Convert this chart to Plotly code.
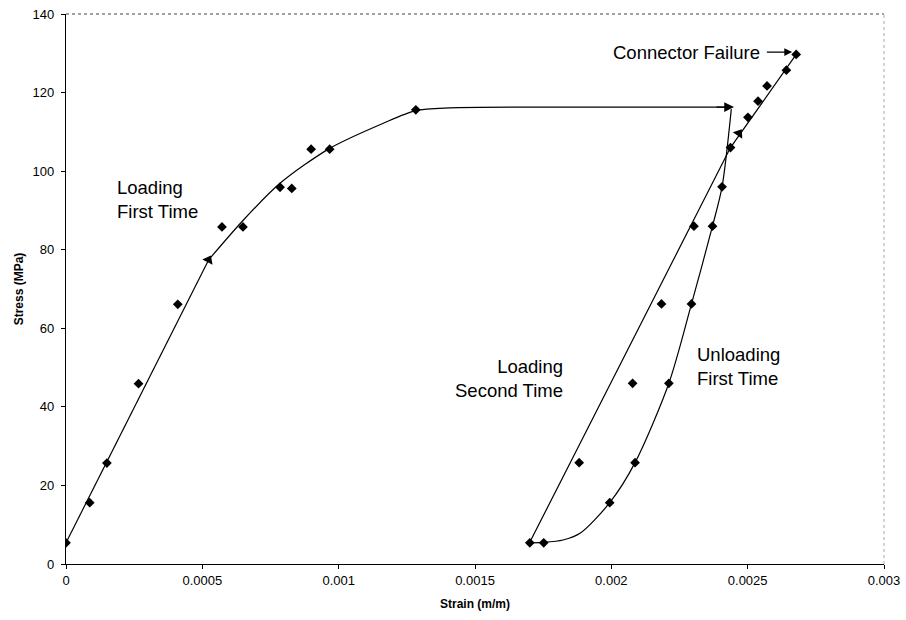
import plotly.graph_objects as go

# ---- data ----
# measured points (strain m/m, stress MPa)
load1_strain = [0, 0.000087, 0.00015, 0.000266, 0.00041, 0.000572, 0.000649, 0.000785, 0.000828, 0.000899, 0.000967, 0.001283]
load1_stress = [5.4, 15.6, 25.7, 45.9, 66.1, 85.8, 85.8, 95.9, 95.6, 105.6, 105.6, 115.6]

unload1_strain = [0.002406, 0.002371, 0.002294, 0.002211, 0.002087, 0.001994, 0.001752, 0.001701]
unload1_stress = [96.0, 86.0, 66.2, 46.0, 25.8, 15.6, 5.4, 5.4]

load2_strain = [0.001882, 0.002078, 0.002184, 0.002303, 0.002437, 0.002501, 0.002538, 0.002571, 0.002642, 0.002678]
load2_stress = [25.8, 46.0, 66.2, 86.0, 106.0, 113.7, 117.8, 121.7, 125.7, 129.7]

# fitted curves
fit1a_strain = [0, 0.000523]
fit1a_stress = [5.4, 77.4]
fit1b_strain = [0.000523, 0.00065, 0.000785, 0.000967, 0.001164, 0.001283, 0.001408, 0.0018, 0.00243]
fit1b_stress = [77.4, 87.5, 96.9, 105.8, 112.2, 115.4, 116.1, 116.3, 116.3]

fit_unload_strain = [0.00244, 0.002406, 0.002371, 0.002294, 0.002211, 0.002087, 0.001994, 0.001885, 0.001823, 0.001752, 0.0017]
fit_unload_stress = [115.8, 96.0, 86.0, 66.2, 46.0, 25.8, 15.6, 7.8, 6.1, 5.5, 5.4]

fit_load2_strain = [0.0017, 0.002437, 0.002678]
fit_load2_stress = [5.4, 106.0, 129.7]

# direction marks on the curves
dir1_strain, dir1_stress = [0.000523], [77.4]
dir2_strain, dir2_stress = [0.002468], [109.6]

x_tickvals = [0, 0.0005, 0.001, 0.0015, 0.002, 0.0025, 0.003]
x_ticktext = ["0", "0.0005", "0.001", "0.0015", "0.002", "0.0025", "0.003"]
y_tickvals = [0, 20, 40, 60, 80, 100, 120, 140]

FONT = "Liberation Sans, Arial, sans-serif"
LINE = dict(color="black", width=1.2)

fig = go.Figure()
fig.add_trace(go.Scatter(x=fit1a_strain, y=fit1a_stress, mode="lines", line=LINE, hoverinfo="skip"))
fig.add_trace(go.Scatter(x=fit1b_strain, y=fit1b_stress, mode="lines", line=dict(LINE, shape="spline", smoothing=0.8), hoverinfo="skip"))
fig.add_trace(go.Scatter(x=fit_unload_strain, y=fit_unload_stress, mode="lines", line=dict(LINE, shape="spline", smoothing=0.8), hoverinfo="skip"))
fig.add_trace(go.Scatter(x=fit_load2_strain, y=fit_load2_stress, mode="lines", line=LINE, hoverinfo="skip"))

mk = dict(symbol="diamond", size=7.5, color="black", line=dict(width=0))
for xs, ys in [(load1_strain, load1_stress), (unload1_strain, unload1_stress), (load2_strain, load2_stress)]:
    fig.add_trace(go.Scatter(x=xs, y=ys, mode="markers", marker=mk))

fig.add_trace(go.Scatter(x=dir1_strain, y=dir1_stress, mode="markers",
                         marker=dict(symbol="triangle-up", size=10, color="black", angle=27)))
fig.add_trace(go.Scatter(x=dir2_strain, y=dir2_stress, mode="markers",
                         marker=dict(symbol="triangle-up", size=10, color="black", angle=35)))

ann_font = dict(family=FONT, size=18.5, color="black")
annotations = [
    # plateau arrow head
    dict(x=0.00245, y=116.3, ax=0.00238, ay=116.3, xref="x", yref="y", axref="x", ayref="y",
         text="", showarrow=True, arrowhead=2, arrowsize=1.4, arrowwidth=1.4, arrowcolor="black"),
    # connector failure arrow
    dict(x=0.002663, y=130.3, ax=0.002565, ay=130.3, xref="x", yref="y", axref="x", ayref="y",
         text="", showarrow=True, arrowhead=2, arrowsize=1.2, arrowwidth=1.3, arrowcolor="black"),
    dict(x=0.002552, y=130.3, xref="x", yref="y", text="Connector Failure", showarrow=False,
         xanchor="right", yanchor="middle", font=ann_font),
    dict(x=0.000181, y=92.9, xref="x", yref="y", text="Loading<br>First Time", showarrow=False,
         xanchor="left", yanchor="middle", align="left", font=ann_font),
    dict(x=0.00183, y=47.1, xref="x", yref="y", text="Loading<br>Second Time", showarrow=False,
         xanchor="right", yanchor="middle", align="right", font=ann_font),
    dict(x=0.002306, y=50.3, xref="x", yref="y", text="Unloading<br>First Time", showarrow=False,
         xanchor="left", yanchor="middle", align="left", font=ann_font),
]

fig.update_layout(
    width=906, height=620,
    margin=dict(l=66, r=22, t=14, b=56),
    paper_bgcolor="white", plot_bgcolor="white",
    showlegend=False,
    font=dict(family=FONT, color="black", size=13),
    annotations=annotations,
    shapes=[
        dict(type="line", xref="paper", yref="paper", x0=0, x1=1, y0=1, y1=1,
             line=dict(color="#444", width=1, dash="dot")),
        dict(type="line", xref="paper", yref="paper", x0=1, x1=1, y0=0, y1=1,
             line=dict(color="#aaa", width=1, dash="dot")),
    ],
)
fig.update_xaxes(range=[0, 0.003], tickvals=x_tickvals, ticktext=x_ticktext, automargin=False,
                 showline=True, linecolor="black", linewidth=1.2, ticks="outside", ticklen=4,
                 tickcolor="black", showgrid=False, zeroline=False,
                 tickfont=dict(family=FONT, size=13),
                 title=dict(text="<b>Strain (m/m)</b>", font=dict(family=FONT, size=12), standoff=12))
fig.update_yaxes(range=[0, 140], tickvals=y_tickvals, automargin=False,
                 showline=True, linecolor="black", linewidth=1.2, ticks="outside", ticklen=4,
                 tickcolor="black", showgrid=False, zeroline=False,
                 tickfont=dict(family=FONT, size=13), ticklabelstandoff=4,
                 title=dict(text="<b>Stress (MPa)</b>", font=dict(family=FONT, size=12), standoff=6))

fig.write_html("out.html")
